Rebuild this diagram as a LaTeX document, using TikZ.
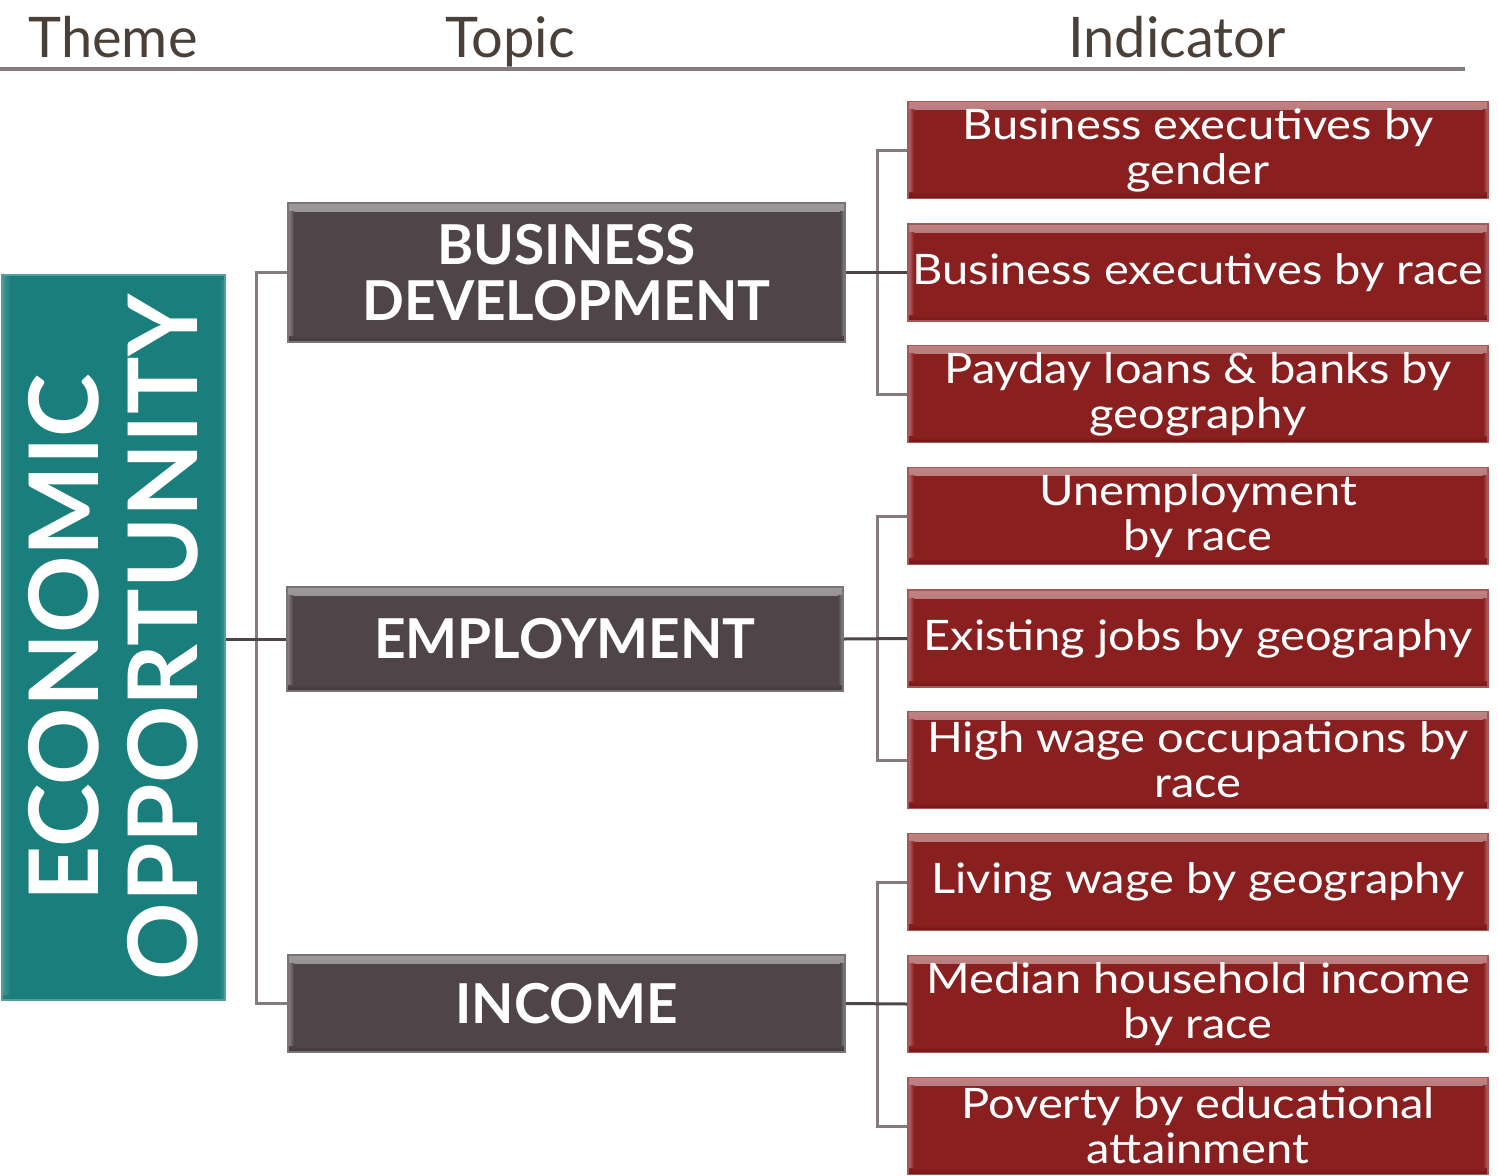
\documentclass[tikz,border=0pt]{standalone}
\usepackage{fontspec}
\setmainfont{Lato}
\newfontfamily\widefont[FakeStretch=1.12]{Lato}
\definecolor{teal1}{HTML}{1A7F7C}
\definecolor{topicc}{HTML}{4F4548}
\definecolor{redc}{HTML}{8A1F1F}
\definecolor{linec}{HTML}{857A7D}
\definecolor{headc}{HTML}{4A4038}
\tikzset{
  box/.style={draw=#1!75!white, fill=#1, line width=1.5pt, text=white, align=center, inner sep=0pt,
    path picture={
      \shade[top color=#1!55!white, bottom color=#1] (path picture bounding box.north west) rectangle ([yshift=-8pt]path picture bounding box.north east);
      \shade[left color=#1!65!white, right color=#1] ([yshift=-8pt]path picture bounding box.north west) rectangle ([xshift=6pt,yshift=6pt]path picture bounding box.south west);
      \shade[left color=#1, right color=#1!65!white] ([xshift=-5pt,yshift=-8pt]path picture bounding box.north east) rectangle ([yshift=6pt]path picture bounding box.south east);
      \shade[top color=#1, bottom color=#1!80!black] ([yshift=6pt]path picture bounding box.south west) rectangle (path picture bounding box.south east);
    }},
  theme/.style={box=teal1, minimum width=725pt, minimum height=223pt, font=\fontsize{96}{99}\selectfont\bfseries},
  topic/.style={box=topicc, minimum width=557pt, font=\fontsize{55}{56}\selectfont\bfseries},
  ind/.style={box=redc, minimum width=580pt, minimum height=97pt, font=\widefont\fontsize{42}{45}\selectfont},
  head/.style={text=headc, anchor=base, font=\fontsize{56}{60}\selectfont},
  conn/.style={draw=linec, line width=3pt},
  dconn/.style={draw=topicc, line width=3pt},
}
\begin{document}
\begin{tikzpicture}[x=1pt,y=-1pt]
\useasboundingbox (0,0) rectangle (1498,1175);
% header
\node[head] (h1) at (113,57) {Theme};
\node[head] (h2) at (510,57) {Topic};
\node[head] (h3) at (1177,57) {Indicator};
\coordinate (la) at (0,69);
\coordinate (lb) at (1465,69);
\draw[draw=linec, line width=4pt] (la) -- (lb);
% theme
\node[theme, rotate=90] (th) at (113.5,637.5) {ECONOMIC\\OPPORTUNITY};
% topics
\node[topic, minimum height=139pt] (bd) at (566.5,272.5) {BUSINESS\\DEVELOPMENT};
\node[topic, minimum height=104pt, minimum width=556pt] (em) at (565,639) {EMPLOYMENT};
\node[topic, minimum height=97pt] (in) at (566.5,1003.5) {INCOME};
% indicators
\node[ind] (i1) at (1198,150) {Business executives by\\gender};
\node[ind] (i2) at (1198,272.5) {Business executives by race};
\node[ind] (i3) at (1198,394) {Payday loans \& banks by\\geography};
\node[ind] (i4) at (1198,516) {Unemployment\\by race};
\node[ind] (i5) at (1198,638.5) {Existing jobs by geography};
\node[ind] (i6) at (1198,760) {High wage occupations by\\race};
\node[ind] (i7) at (1198,882) {Living wage by geography};
\node[ind] (i8) at (1198,1004) {Median household income\\by race};
\node[ind] (i9) at (1198,1126) {Poverty by educational\\attainment};
% connectors
\draw[conn] (bd.west) -- ++(-31,0) |- (in.west);
\draw[dconn] (th.south |- em.west) -- (em.west);
\draw[conn] (i1.west) -- ++(-30,0) |- (i3.west);
\draw[conn] (i4.west) -- ++(-30,0) |- (i6.west);
\draw[conn] (i7.west) -- ++(-30,0) |- (i9.west);
\draw[dconn] (bd.east) -- (i2.west);
\draw[dconn] (em.east) -- (i5.west);
\draw[dconn] (in.east) -- (i8.west);
\end{tikzpicture}
\end{document}
